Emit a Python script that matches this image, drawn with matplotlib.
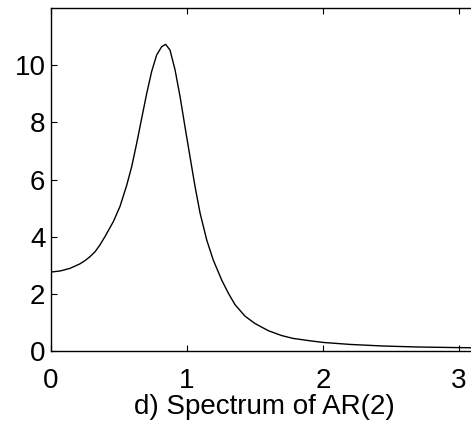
import numpy as np
import matplotlib
matplotlib.use('Agg')
import matplotlib.pyplot as plt

# frequency (rad) and spectral density
freq = [0.000, 0.070, 0.140, 0.210, 0.250, 0.287, 0.324, 0.360, 0.397,
        0.458, 0.507, 0.557, 0.593, 0.630, 0.667, 0.704, 0.740, 0.777,
        0.814, 0.843, 0.875, 0.912, 0.949, 0.985, 1.022, 1.059, 1.096,
        1.145, 1.193, 1.255, 1.304, 1.353, 1.426, 1.500, 1.598, 1.696,
        1.780, 1.900, 2.000, 2.200, 2.440, 2.700, 2.980, 3.1416]
spec = [2.77, 2.81, 2.90, 3.05, 3.17, 3.31, 3.48, 3.72, 4.01,
        4.53, 5.06, 5.81, 6.45, 7.27, 8.15, 9.02, 9.78, 10.36,
        10.65, 10.73, 10.53, 9.84, 8.90, 7.85, 6.80, 5.76, 4.83,
        3.89, 3.19, 2.49, 2.03, 1.63, 1.23, 0.97, 0.72, 0.55,
        0.45, 0.37, 0.31, 0.24, 0.185, 0.15, 0.13, 0.12]

plt.rcParams['font.family'] = ['Liberation Sans', 'DejaVu Sans']

fig = plt.figure(figsize=(4.71, 4.33), dpi=100)
ax = fig.add_axes([51 / 471, (433 - 351.3) / 433, 427.3 / 471, 343.3 / 433])
ax.plot(freq, spec, color='black', lw=1.0)
ax.set_xlim(0, np.pi)
ax.set_ylim(0, 12)
ax.set_xticks([0, 1, 2, 3])
ax.set_yticks([0, 2, 4, 6, 8, 10])
ax.tick_params(direction='in', length=4, width=0.8, labelsize=20,
               top=True, right=True)
ax.tick_params(axis='x', pad=12)
ax.tick_params(axis='y', pad=4)
for s in ax.spines.values():
    s.set_linewidth(1.0)
ax.set_xlabel('d) Spectrum of AR(2)', fontsize=20, labelpad=0)

fig.savefig('out.png', dpi=100)
